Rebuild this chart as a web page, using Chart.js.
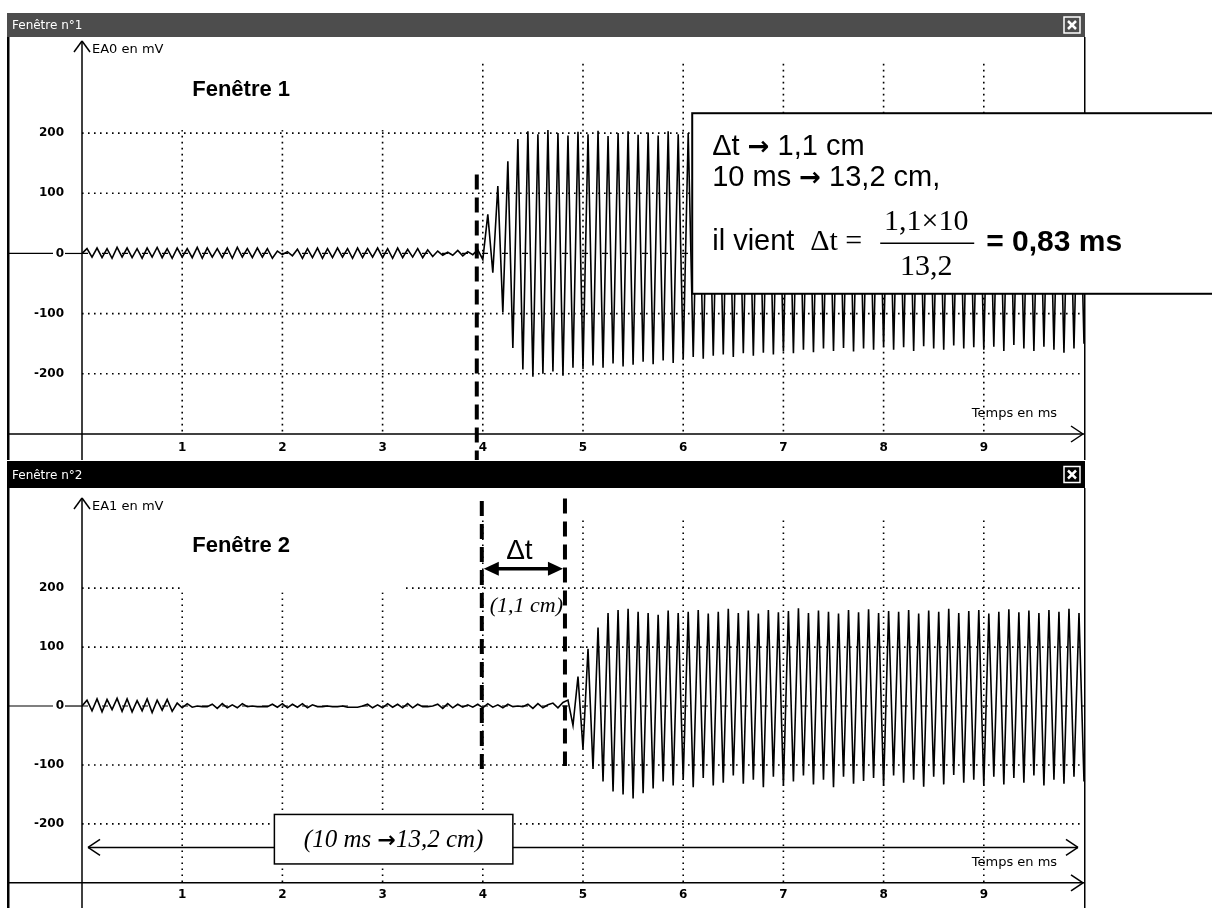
<!DOCTYPE html>
<html><head><meta charset="utf-8">
<script src="https://cdn.jsdelivr.net/npm/chart.js@4.4.1/dist/chart.umd.min.js"></script>
<style>
html,body{margin:0;padding:0;background:#fff;width:1212px;height:908px;overflow:hidden}
#c1{position:absolute;left:0;top:0}
#c2{position:absolute;left:0;top:460px}
</style></head><body>
<canvas id="c1" width="1212" height="460"></canvas>
<canvas id="c2" width="1212" height="448"></canvas>
<script>
// ---------- data (mV, sampled every dt ms) ----------
const dt = 0.05;
const xTicks = [1, 2, 3, 4, 5, 6, 7, 8, 9];
const yTicks = [-200, -100, 0, 100, 200];
const xMin = 0, xMax = 10, yMin = -300, yMax = 353;

// Fenêtre 1 : EA0
const quiet1 = [0,8,-6,9,-7,8,-8,10,-6,9, -7,8,-8,9,-6,10,-7,8,-8,9, -6,8,-7,10,-8,9,-6,8,-7,9,
  -8,10,-6,8,-7,9,-6,8,-8,4, -2,3,-4,7,-8,8,-7,9,-8,8, -7,9,-6,8,-8,9,-7,8,-6,9,
  -7,8,-8,9,-7,7,-6,8,-7,6, -5,4,-3,2,-3,5,-4,3,-2];
const burst1Start = 3.95;
const burst1 = [6,-10,65,-32,112,-98,153,-157,190,-193,
  203,-205,198,-200,205,-196,200,-203,196,-190,
  202,-192,198,-186,204,-190,195,-183,200,-188,
  203,-185,197,-180,201,-184,196,-178,203,-182,
  198,-176,200,-172,196,-175,201,-170,197,-168,
  200,-172,195,-166,199,-170,202,-165,196,-168,
  199,-163,197,-166,201,-160,196,-164,200,-158,
  198,-162,195,-157,200,-163,197,-158,199,-160,
  196,-155,201,-160,197,-156,199,-162,195,-154,
  200,-158,197,-160,196,-153,201,-158,198,-156,
  196,-160,199,-155,197,-162,200,-152,196,-158,
  198,-162,195,-155,200,-160,197,-165,199,-158,
  196,-150];

// Fenêtre 2 : EA1
const quiet2 = [0,10,-8,12,-10,11,-6,13,-9,12, -10,9,-8,12,-11,10,-7,11,-9,5,
  -3,4,-2,0,-1,-1,3,-4,4,-3, 2,-3,4,-1,0,-1,-1,-1,3,-2,
  4,-3,3,-2,4,-3,2,-1,-1,0, -1,-1,0,-2,-2,-2,0,3,-3,2,
  -3,4,-2,3,-3,4,-3,3,-1,-1, 0,3,-4,4,-3,3,-2,2,-2,3,
  -3,4,-2,2,-3,3,-1,0,-1,3, -4,4,-3,2,5,-3,6];
const burst2Start = 4.85;
const burst2 = [10,-33,50,-73,97,-107,133,-128,158,-145,
  163,-150,165,-157,160,-148,158,-140,155,-128,
  162,-135,158,-125,160,-138,163,-122,157,-135,
  160,-130,165,-118,158,-132,162,-125,157,-138,
  163,-120,159,-135,161,-128,166,-118,158,-133,
  162,-125,160,-138,157,-120,163,-132,159,-127,
  164,-122,158,-135,161,-118,160,-130,163,-125,
  157,-137,162,-120,160,-133,165,-117,158,-130,
  161,-125,163,-135,157,-120,160,-133,164,-122,
  159,-130,162,-118,158,-135,163,-125,160,-132,
  165,-120,158,-128];

// annotation values (ms)
const mark1 = 3.94;
const mark2a = 3.99, mark2b = 4.82;

// ---------- helpers ----------
function buildPoints(quiet, start, burst) {
  const pts = [];
  quiet.forEach((v, i) => { const t = i * dt; if (t < start - 1e-6) pts.push({x: t, y: v}); });
  burst.forEach((v, i) => pts.push({x: start + i * dt, y: v}));
  return pts;
}
const SANS = '"Liberation Sans", Arial, sans-serif';
const SERIF = '"Liberation Serif", "Times New Roman", serif';
const UI = '"DejaVu Sans", sans-serif';

function seg(ctx, x1, y1, x2, y2) { ctx.beginPath(); ctx.moveTo(x1, y1); ctx.lineTo(x2, y2); ctx.stroke(); }
function dotted(ctx, x1, y1, x2, y2) {
  ctx.save(); ctx.strokeStyle = '#000'; ctx.lineWidth = 1.6; ctx.setLineDash([1.6, 4.4]);
  seg(ctx, x1, y1, x2, y2); ctx.restore();
}
function thickDash(ctx, x, y1, y2) {
  ctx.save(); ctx.strokeStyle = '#000'; ctx.lineWidth = 4; ctx.setLineDash([15, 8]);
  seg(ctx, x, y1, x, y2); ctx.restore();
}
function openHead(ctx, x, y, dir) {
  seg(ctx, x - dir * 12, y - 8, x, y); seg(ctx, x, y, x - dir * 12, y + 8);
}
function filledHead(ctx, x, y, dir) {
  ctx.beginPath(); ctx.moveTo(x, y); ctx.lineTo(x - dir * 15, y - 7); ctx.lineTo(x - dir * 15, y + 7); ctx.closePath(); ctx.fill();
}
// draw text made of several font runs, left-aligned or centred
function runs(ctx, parts, x, y, align) {
  let w = 0;
  parts.forEach(p => { ctx.font = p[1]; w += ctx.measureText(p[0]).width; });
  let cx = align === 'center' ? x - w / 2 : x;
  ctx.textAlign = 'left';
  parts.forEach(p => { ctx.font = p[1]; ctx.fillText(p[0], cx, y + (p[2] || 0)); cx += ctx.measureText(p[0]).width; });
}

function framePlugin(cfg) {
  return {
    id: 'frame_' + cfg.canvas,
    beforeDraw(chart) {
      const ctx = chart.ctx, a = chart.chartArea;
      ctx.save();
      ctx.fillStyle = '#fff'; ctx.fillRect(0, 0, chart.width, chart.height);
      ctx.fillStyle = cfg.barColor; ctx.fillRect(7, cfg.barTop, 1078, cfg.barH);
      ctx.fillStyle = '#fff'; ctx.font = '12px ' + UI; ctx.textBaseline = 'middle'; ctx.textAlign = 'left';
      ctx.fillText(cfg.barText, 12, cfg.barTop + cfg.barH / 2 + 1);
      const bx = 1064, by = cfg.barTop + cfg.barH / 2 - 8;
      ctx.strokeStyle = '#fff'; ctx.lineWidth = 1.5; ctx.strokeRect(bx, by, 16, 16);
      ctx.lineWidth = 2.5; seg(ctx, bx + 4, by + 4, bx + 12, by + 12); seg(ctx, bx + 12, by + 4, bx + 4, by + 12);
      ctx.fillStyle = '#000';
      ctx.fillRect(7, cfg.barTop + cfg.barH, 2.5, chart.height - cfg.barTop - cfg.barH);
      ctx.fillRect(a.right, cfg.barTop + cfg.barH, 1.5, chart.height - cfg.barTop - cfg.barH);
      ctx.restore();
    },
    beforeDatasetsDraw(chart) {
      const ctx = chart.ctx, a = chart.chartArea, xs = chart.scales.x, ys = chart.scales.y;
      ctx.save();
      const gTop = ys.getPixelForValue(315);
      xs.ticks.forEach(t => { const x = xs.getPixelForValue(t.value); dotted(ctx, x, gTop, x, a.bottom); });
      ys.ticks.forEach(t => { if (t.value !== 0) { const y = ys.getPixelForValue(t.value); dotted(ctx, a.left, y, a.right, y); } });
      const y0 = ys.getPixelForValue(0);
      ctx.strokeStyle = '#000'; ctx.lineWidth = 1.2;
      seg(ctx, 9, y0, a.left - 29, y0); seg(ctx, a.left - 17, y0, a.left, y0);
      ctx.save(); ctx.setLineDash([6, 14]); seg(ctx, a.left, y0, a.right, y0); ctx.restore();
      const bl = xs.getPixelForValue(cfg.labelBox[0]), br = xs.getPixelForValue(cfg.labelBox[1]);
      const bt = ys.getPixelForValue(cfg.labelBox[3]), bb = ys.getPixelForValue(cfg.labelBox[2]);
      ctx.fillStyle = '#fff'; ctx.fillRect(bl, bt, br - bl, bb - bt);
      ctx.fillStyle = '#000'; ctx.font = 'bold 22px ' + SANS; ctx.textAlign = 'left'; ctx.textBaseline = 'middle';
      ctx.fillText(cfg.title, xs.getPixelForValue(1.1), ys.getPixelForValue(272));
      ctx.strokeStyle = '#000'; ctx.lineWidth = 1.5;
      seg(ctx, 9, a.bottom, a.right, a.bottom);
      seg(ctx, a.left, a.top, a.left, chart.height);
      openHead(ctx, a.right - 1, a.bottom, 1);
      seg(ctx, a.left - 8, a.top + 11, a.left, a.top); seg(ctx, a.left, a.top, a.left + 8, a.top + 11);
      ctx.font = '13px ' + UI; ctx.textAlign = 'left';
      ctx.fillText(cfg.yLabel, a.left + 10, a.top + 9);
      ctx.fillText('Temps en ms', xs.getPixelForValue(8.88), a.bottom - 20);
      ctx.restore();
    },
    afterDraw(chart) {
      const ctx = chart.ctx; ctx.save(); cfg.extras(chart, ctx); ctx.restore();
    }
  };
}

function makeChart(cfg) {
  return new Chart(document.getElementById(cfg.canvas), {
    type: 'line',
    data: { datasets: [{ data: buildPoints(cfg.quiet, cfg.burstStart, cfg.burst),
      borderColor: '#000', borderWidth: 1.6, pointRadius: 0, tension: 0, fill: false }] },
    options: {
      responsive: false, animation: false, devicePixelRatio: 1, events: [],
      layout: { padding: { left: 0, right: 1212 - 1084, top: cfg.plotTop, bottom: 0 } },
      plugins: { legend: { display: false }, tooltip: { enabled: false } },
      scales: {
        x: { type: 'linear', min: xMin, max: xMax,
          afterBuildTicks: s => { s.ticks = xTicks.map(v => ({ value: v })); },
          afterFit: s => { s.height = cfg.xAxisH; },
          grid: { display: false, drawTicks: false }, border: { display: false },
          ticks: { padding: cfg.xPad, color: '#000', autoSkip: false, maxRotation: 0,
            font: { family: 'DejaVu Sans', size: 12, weight: 'bold' } } },
        y: { type: 'linear', min: yMin, max: yMax,
          afterBuildTicks: s => { s.ticks = yTicks.map(v => ({ value: v })); },
          afterFit: s => { s.width = 82; },
          grid: { display: false, drawTicks: false }, border: { display: false },
          ticks: { padding: 18, color: '#000',
            font: { family: 'DejaVu Sans', size: 12, weight: 'bold' } } }
      }
    },
    plugins: [framePlugin(cfg)]
  });
}

const ARROW = 'bold 26px "DejaVu Sans", sans-serif';

// ---------- window 1 ----------
makeChart({
  canvas: 'c1', quiet: quiet1, burst: burst1, burstStart: burst1Start,
  barText: 'Fenêtre n°1', barColor: '#4d4d4d', barTop: 13, barH: 24,
  plotTop: 41, xAxisH: 26, xPad: 7, yLabel: 'EA0 en mV', title: 'Fenêtre 1',
  labelBox: [0.02, 3.92, 205, 352],
  extras(chart, ctx) {
    const xs = chart.scales.x, ys = chart.scales.y;
    thickDash(ctx, xs.getPixelForValue(mark1), ys.getPixelForValue(131), chart.height);
    const L = xs.getPixelForValue(6.09), T = ys.getPixelForValue(233), B = ys.getPixelForValue(-67);
    ctx.fillStyle = '#fff'; ctx.fillRect(L, T, 1220 - L, B - T);
    ctx.strokeStyle = '#000'; ctx.lineWidth = 2; ctx.strokeRect(L, T, 1220 - L, B - T);
    ctx.fillStyle = '#000'; ctx.textBaseline = 'middle'; ctx.textAlign = 'left';
    const F = '29px ' + SANS;
    runs(ctx, [['Δt ', F], ['→', ARROW, 1], [' 1,1 cm', F]], L + 20, T + 34);
    runs(ctx, [['10 ms ', F], ['→', ARROW, 1], [' 13,2 cm,', F]], L + 20, T + 65);
    ctx.font = F; ctx.fillText('il vient', L + 20, T + 129);
    ctx.font = '30px ' + SERIF;
    ctx.fillText('Δt =', L + 118, T + 129);
    ctx.textAlign = 'center';
    ctx.fillText('1,1×10', L + 234, T + 109);
    ctx.fillText('13,2', L + 234, T + 154);
    ctx.lineWidth = 1.5; seg(ctx, L + 188, T + 130, L + 282, T + 130);
    ctx.textAlign = 'left'; ctx.font = 'bold 30px ' + SANS;
    ctx.fillText('= 0,83 ms', L + 294, T + 130);
  }
});

// ---------- window 2 ----------
makeChart({
  canvas: 'c2', quiet: quiet2, burst: burst2, burstStart: burst2Start,
  barText: 'Fenêtre n°2', barColor: '#000', barTop: 1, barH: 27,
  plotTop: 38, xAxisH: 20, xPad: 5, yLabel: 'EA1 en mV', title: 'Fenêtre 2',
  labelBox: [0.98, 3.2, 193, 352],
  extras(chart, ctx) {
    const xs = chart.scales.x, ys = chart.scales.y;
    const xa = xs.getPixelForValue(mark2a), xb = xs.getPixelForValue(mark2b);
    thickDash(ctx, xa, ys.getPixelForValue(348), ys.getPixelForValue(-110));
    thickDash(ctx, xb, ys.getPixelForValue(352), ys.getPixelForValue(-102));
    const ya = ys.getPixelForValue(233);
    ctx.strokeStyle = '#000'; ctx.fillStyle = '#000'; ctx.lineWidth = 3.5;
    seg(ctx, xa + 8, ya, xb - 8, ya);
    filledHead(ctx, xa + 2, ya, -1); filledHead(ctx, xb - 2, ya, 1);
    ctx.textAlign = 'center'; ctx.textBaseline = 'middle';
    ctx.font = '28px ' + SANS;
    ctx.fillText('Δt', (xa + xb) / 2 - 4, ys.getPixelForValue(262));
    ctx.font = 'italic 22px ' + SERIF;
    ctx.fillText('(1,1 cm)', (xa + xb) / 2 + 3, ys.getPixelForValue(169));
    const yb = ys.getPixelForValue(-240);
    const x0 = xs.getPixelForValue(0.06), x1 = xs.getPixelForValue(9.94);
    ctx.lineWidth = 1.5;
    seg(ctx, x0, yb, x1, yb); openHead(ctx, x0, yb, -1); openHead(ctx, x1, yb, 1);
    const bl = xs.getPixelForValue(1.92), br = xs.getPixelForValue(4.3);
    const bt = ys.getPixelForValue(-184), bb = ys.getPixelForValue(-268);
    ctx.fillStyle = '#fff'; ctx.fillRect(bl, bt, br - bl, bb - bt);
    ctx.strokeStyle = '#000'; ctx.lineWidth = 1.5; ctx.strokeRect(bl, bt, br - bl, bb - bt);
    ctx.fillStyle = '#000';
    const I = 'italic 25px ' + SERIF;
    runs(ctx, [['(10 ms ', I], ['→', 'bold 22px "DejaVu Sans", sans-serif', 1], ['13,2 cm)', I]], (bl + br) / 2, (bt + bb) / 2 + 1, 'center');
  }
});
</script>
</body></html>
